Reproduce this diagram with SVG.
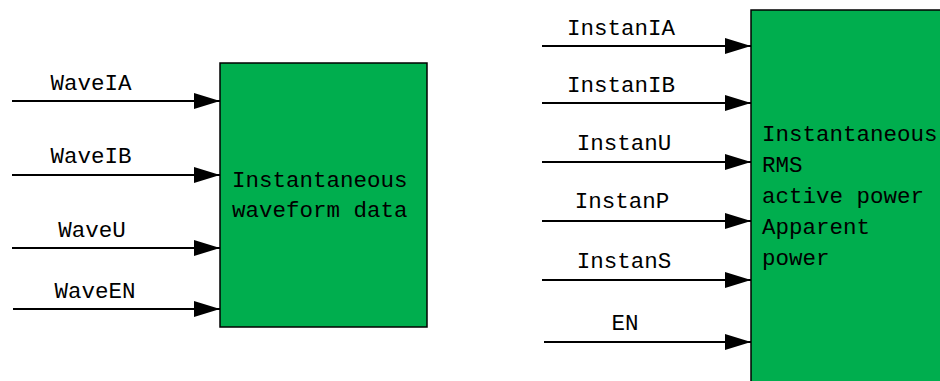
<svg xmlns="http://www.w3.org/2000/svg" width="940" height="381" viewBox="0 0 940 381">
<style>
.box{fill:#00ae4e;stroke:#000;stroke-width:1.5}
.ln{stroke:#000;stroke-width:2;fill:none}
text{font-family:"Liberation Mono","DejaVu Sans Mono",monospace;font-size:22.5px;fill:#000}
.c{text-anchor:middle}
</style>
<defs>
<marker id="ah" viewBox="0 0 26 16" refX="26" refY="8" markerWidth="26" markerHeight="16" markerUnits="userSpaceOnUse" orient="auto">
<path d="M0,0 L26,8 L0,16 Z" fill="#000"/>
</marker>
</defs>
<rect width="940" height="381" fill="#fff"/>
<g id="node-waveform">
<rect class="box" x="220" y="63" width="207" height="264"/>
<text x="232" y="187">Instantaneous</text>
<text x="232" y="217">waveform data</text>
</g>
<g id="node-instant">
<rect class="box" x="751" y="10" width="200" height="380"/>
<text x="762" y="141">Instantaneous</text>
<text x="762" y="172">RMS</text>
<text x="762" y="203">active power</text>
<text x="762" y="234">Apparent</text>
<text x="762" y="265">power</text>
</g>
<g id="connectors">
<line class="ln" x1="12" y1="101" x2="220" y2="101" marker-end="url(#ah)"/>
<line class="ln" x1="12" y1="175" x2="220" y2="175" marker-end="url(#ah)"/>
<line class="ln" x1="12" y1="248" x2="220" y2="248" marker-end="url(#ah)"/>
<line class="ln" x1="13" y1="309" x2="220" y2="309" marker-end="url(#ah)"/>
<line class="ln" x1="542" y1="46" x2="751" y2="46" marker-end="url(#ah)"/>
<line class="ln" x1="542" y1="103" x2="751" y2="103" marker-end="url(#ah)"/>
<line class="ln" x1="542" y1="162" x2="751" y2="162" marker-end="url(#ah)"/>
<line class="ln" x1="542" y1="221" x2="751" y2="221" marker-end="url(#ah)"/>
<line class="ln" x1="542" y1="280" x2="751" y2="280" marker-end="url(#ah)"/>
<line class="ln" x1="544" y1="342" x2="751" y2="342" marker-end="url(#ah)"/>
<text class="c" x="91" y="90">WaveIA</text>
<text class="c" x="91" y="163">WaveIB</text>
<text class="c" x="92" y="237">WaveU</text>
<text class="c" x="95" y="298">WaveEN</text>
<text class="c" x="621" y="35">InstanIA</text>
<text class="c" x="621" y="92">InstanIB</text>
<text class="c" x="624" y="150">InstanU</text>
<text class="c" x="622" y="208">InstanP</text>
<text class="c" x="624" y="268">InstanS</text>
<text class="c" x="625" y="330">EN</text>
</g>
</svg>
